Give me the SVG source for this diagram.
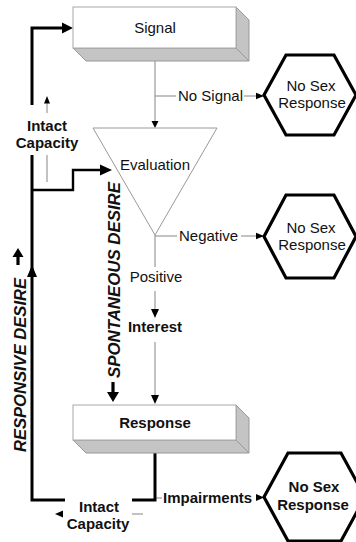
<svg xmlns="http://www.w3.org/2000/svg" width="356" height="542" viewBox="0 0 356 542">
  <style>
    text { font-family: "Liberation Sans", Arial, sans-serif; font-size: 15px; fill: #111; }
    .b { font-weight: bold; }
    .side { font-weight: bold; font-style: italic; font-size: 16px; }
    .face { fill: #fff; stroke: #a8a8a8; stroke-width: 1; }
    .shade { fill: #c4c4c4; stroke: #999; stroke-width: 1; }
    .tri { fill: #fff; stroke: #999; stroke-width: 1; }
    .hex { fill: #fff; stroke: #000; stroke-width: 3.2; stroke-linejoin: miter; }
    .thin { fill: none; stroke: #999; stroke-width: 1.2; }
    .thick { fill: none; stroke: #000; stroke-width: 3; }
    .mid { fill: none; stroke: #000; stroke-width: 2.4; }
    .head { fill: #000; stroke: none; }
  </style>

  <!-- connectors -->
  <g id="connectors">
    <!-- Signal -> Evaluation -->
    <line class="thin" x1="155" y1="61" x2="155" y2="121"/>
    <polygon class="head" points="151.5,121 158.5,121 155,128"/>
    <!-- No Signal branch -->
    <line class="thin" x1="155" y1="96" x2="176" y2="96"/>
    <line class="thin" x1="244" y1="96" x2="257" y2="96"/>
    <polygon class="head" points="256,92.7 264,96 256,99.3"/>
    <!-- Negative branch -->
    <line class="thin" x1="155" y1="236" x2="177" y2="236"/>
    <line class="thin" x1="241" y1="236" x2="257" y2="236"/>
    <polygon class="head" points="256,232.7 264,236 256,239.3"/>
    <!-- Positive path -->
    <line class="thin" x1="155" y1="235" x2="155" y2="267"/>
    <line class="thin" x1="155" y1="291" x2="155" y2="309"/>
    <polygon class="head" points="151,309 159,309 155,318"/>
    <line class="thin" x1="155" y1="342" x2="155" y2="395"/>
    <polygon class="head" points="151,395 159,395 155,404"/>
    <!-- Impairments branch -->
    <line class="thin" x1="155" y1="498" x2="162" y2="498"/>
    <polygon class="head" points="256,494 264,497.5 256,501"/>

    <!-- responsive loop -->
    <polyline class="thick" points="155,453 155,500 132,500"/>
    <polyline class="thick" points="65,500 32,500 32,155"/>
    <polyline class="thick" points="32,105 32,28 63,28"/>
    <polygon class="head" points="62,22.5 73,28 62,33.5"/>
    <polygon class="head" points="27,277 37,277 32,265"/>
    <!-- spontaneous entry into Evaluation -->
    <polyline class="mid" points="32,190 73,190 73,170 101,170"/>
    <polygon class="head" points="100,164.5 112,170 100,175.5"/>

    <!-- intact capacity markers -->
    <line class="thin" x1="47" y1="103" x2="47" y2="113"/>
    <polygon class="head" points="44,103.5 50,103.5 47,96"/>
    <line class="thin" x1="47" y1="155" x2="47" y2="182"/>
    <line class="thin" x1="132" y1="514" x2="143" y2="514"/>
    <polygon class="head" points="63,510.5 63,517.5 55,514"/>

    <!-- direction arrows beside vertical labels -->
    <line x1="18" y1="256" x2="18" y2="265" stroke="#000" stroke-width="3.2"/>
    <polygon class="head" points="12.5,257 23.5,257 18,248"/>
    <line x1="113" y1="382" x2="113" y2="393" stroke="#000" stroke-width="3.2"/>
    <polygon class="head" points="107,392 119,392 113,402"/>
  </g>

  <!-- Signal box -->
  <g id="signal">
    <polygon class="shade" points="73,48 236,48 249,61 86,61"/>
    <polygon class="shade" points="236,7 249,20 249,61 236,48"/>
    <rect class="face" x="73" y="7" width="163" height="41"/>
    <text x="155" y="33" text-anchor="middle">Signal</text>
  </g>

  <!-- Evaluation triangle -->
  <g id="evaluation">
    <polygon class="tri" points="93,128 217,128 155,235"/>
    <text x="155" y="170" text-anchor="middle">Evaluation</text>
  </g>

  <!-- Response box -->
  <g id="response">
    <polygon class="shade" points="73,440 236,440 249,453 86,453"/>
    <polygon class="shade" points="236,405 249,418 249,453 236,440"/>
    <rect class="face" x="73" y="405" width="163" height="35"/>
    <text class="b" x="155" y="428" text-anchor="middle">Response</text>
  </g>

  <!-- outcome hexagons -->
  <g id="no-response-1">
    <polygon class="hex" points="264,95 286,55 334,55 356,95 334,135 286,135"/>
    <text x="311" y="91" text-anchor="middle">No Sex</text>
    <text x="312" y="108" text-anchor="middle">Response</text>
  </g>
  <g id="no-response-2">
    <polygon class="hex" points="264,236.5 286,195 334,195 356,236.5 334,278 286,278"/>
    <text x="311" y="232.5" text-anchor="middle">No Sex</text>
    <text x="312" y="249.5" text-anchor="middle">Response</text>
  </g>
  <g id="no-response-3">
    <polygon class="hex" points="264,497 288,453 341,453 365,497 341,541 288,541"/>
    <text class="b" x="314" y="492" text-anchor="middle">No Sex</text>
    <text class="b" x="313" y="510" text-anchor="middle">Response</text>
  </g>

  <!-- edge labels -->
  <g id="labels">
    <text x="178" y="101">No Signal</text>
    <text x="179" y="241">Negative</text>
    <text x="156" y="282" text-anchor="middle">Positive</text>
    <text class="b" x="155" y="332" text-anchor="middle">Interest</text>
    <text class="b" x="163" y="503">Impairments</text>
    <text class="b" x="47" y="131" text-anchor="middle">Intact</text>
    <text class="b" x="47" y="148" text-anchor="middle">Capacity</text>
    <text class="b" x="99" y="512" text-anchor="middle">Intact</text>
    <text class="b" x="98" y="529" text-anchor="middle">Capacity</text>
    <text class="side" transform="translate(120,378) rotate(-90)" textLength="196" lengthAdjust="spacingAndGlyphs">SPONTANEOUS DESIRE</text>
    <text class="side" transform="translate(25.5,452) rotate(-90)" textLength="174" lengthAdjust="spacingAndGlyphs">RESPONSIVE DESIRE</text>
  </g>
</svg>
